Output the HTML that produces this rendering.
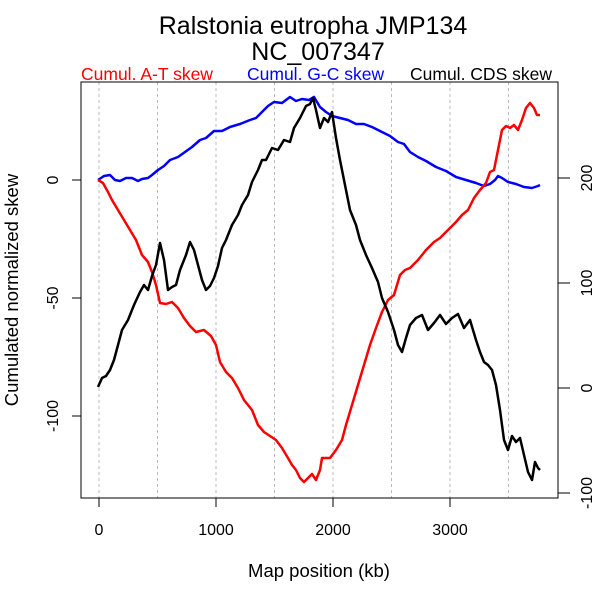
<!DOCTYPE html>
<html><head><style>body{margin:0;background:#fff}</style></head><body>
<svg width="600" height="600" xmlns="http://www.w3.org/2000/svg" font-family="Liberation Sans, sans-serif">
<rect width="600" height="600" fill="#fff"/>
<text x="313" y="34" font-size="25" text-anchor="middle">Ralstonia eutropha JMP134</text>
<text x="318" y="60" font-size="25" text-anchor="middle">NC_007347</text>
<text x="81" y="80" font-size="17.5" fill="#f00">Cumul. A-T skew</text>
<text x="247" y="80" font-size="17.5" fill="#00f">Cumul. G-C skew</text>
<text x="410" y="80" font-size="17.5" fill="#000">Cumul. CDS skew</text>
<g stroke="#bbb" stroke-dasharray="3,3" stroke-width="1">
<line x1="99" y1="82" x2="99" y2="498"/><line x1="157.5" y1="82" x2="157.5" y2="498"/>
<line x1="216" y1="82" x2="216" y2="498"/><line x1="274.5" y1="82" x2="274.5" y2="498"/>
<line x1="333" y1="82" x2="333" y2="498"/><line x1="391.5" y1="82" x2="391.5" y2="498"/>
<line x1="450" y1="82" x2="450" y2="498"/><line x1="508.5" y1="82" x2="508.5" y2="498"/>
</g>
<rect x="81" y="82" width="477" height="416" fill="none" stroke="#000"/>
<g stroke="#000">
<line x1="99" y1="498" x2="99" y2="507"/><line x1="216" y1="498" x2="216" y2="507"/>
<line x1="333" y1="498" x2="333" y2="507"/><line x1="450" y1="498" x2="450" y2="507"/>
<line x1="81" y1="180" x2="72" y2="180"/><line x1="81" y1="298" x2="72" y2="298"/><line x1="81" y1="416" x2="72" y2="416"/>
<line x1="558" y1="178" x2="570" y2="178"/><line x1="558" y1="283" x2="570" y2="283"/><line x1="558" y1="388" x2="570" y2="388"/><line x1="558" y1="493" x2="570" y2="493"/>
</g>
<g font-size="16" text-anchor="middle">
<text x="99" y="535">0</text><text x="216" y="535">1000</text><text x="333" y="535">2000</text><text x="450" y="535">3000</text>
<text transform="translate(58,180) rotate(-90)">0</text>
<text transform="translate(58,298) rotate(-90)">-50</text>
<text transform="translate(58,416) rotate(-90)">-100</text>
<text transform="translate(592,178) rotate(-90)">200</text>
<text transform="translate(592,283) rotate(-90)">100</text>
<text transform="translate(592,388) rotate(-90)">0</text>
<text transform="translate(592,493) rotate(-90)">-100</text>
<text x="319" y="577" font-size="18.5">Map position (kb)</text>
<text transform="translate(18,290) rotate(-90)" font-size="18.5">Cumulated normalized skew</text>
</g>
<g fill="none" stroke-width="2.5" stroke-linejoin="round">
<polyline stroke="#00f" points="98,180 104,176 110,175 115,180 120,181 126,178 132,178 138,181 142,179 148,178 152,175 158,170 164,166 170,160 178,157 185,152 192,147 200,140 206,138 214,131 222,131 230,127 240,124 250,120 256,118 262,112 268,106 274,102 282,103 290,97 296,101 302,99 309,100 314,97 320,107 326,112 332,116 340,118 348,120 356,124 364,124 372,127 380,131 390,136 398,142 404,144 410,152 418,157 426,161 436,167 446,171 456,177 466,180 476,183 484,186 490,184 495,180 498,176 502,178 508,182 516,184 524,187 532,188 538,186 540,185"/>
<polyline stroke="#f00" points="98,180 103,183 108,192 112,200 118,210 124,220 130,230 136,240 142,255 148,262 152,272 156,285 160,303 166,304 172,302 178,308 184,318 190,326 196,332 204,330 211,336 216,345 220,362 226,372 232,378 238,388 244,400 252,410 258,425 264,432 270,436 276,440 282,448 288,458 292,465 296,470 300,478 304,482 308,478 312,474 316,480 320,470 322,458 330,458 336,450 342,440 346,425 352,405 358,385 364,365 370,345 376,328 382,312 388,300 394,295 400,275 405,270 410,268 418,260 426,250 434,242 440,238 448,230 456,222 462,215 468,210 474,198 480,190 486,183 490,172 494,170 498,150 502,130 506,126 510,128 514,125 518,130 522,120 526,108 530,103 534,108 537,115 540,115"/>
<polyline stroke="#000" points="98,387 102,378 106,376 110,370 114,360 118,345 122,330 128,320 134,305 140,292 144,285 148,290 152,276 156,265 160,243 164,260 168,290 172,287 176,285 180,270 186,255 190,242 194,250 198,265 202,280 206,290 210,286 214,278 218,266 222,248 226,240 232,225 238,215 242,205 248,195 252,182 258,170 262,160 266,160 272,148 278,150 284,140 290,142 294,128 300,118 306,106 310,104 313,98 316,110 320,128 324,118 328,122 332,112 336,138 340,160 346,190 350,210 356,225 360,240 366,255 372,268 378,282 382,298 388,312 394,330 398,345 402,352 406,338 410,325 416,318 422,315 428,330 434,323 440,315 446,324 452,318 458,314 464,328 470,320 476,340 480,352 484,362 488,365 492,370 496,385 500,410 504,440 508,450 512,436 516,442 520,438 524,455 528,472 532,480 535,462 538,468 540,470"/>
</g>
</svg>
</body></html>
